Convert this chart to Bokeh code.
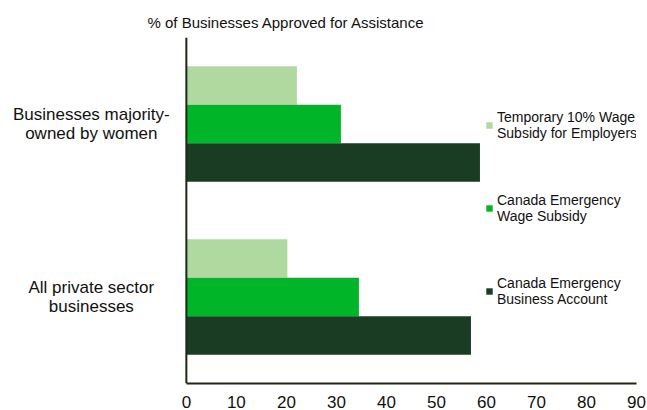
from bokeh.plotting import figure
from bokeh.models import Range1d, FactorRange, Legend, LegendItem, ColumnDataSource, FixedTicker, Span
from bokeh.core.properties import value
from bokeh.transform import dodge
from bokeh.embed import file_html
from bokeh.resources import INLINE

categories = ["All private sector businesses", "Businesses majority-owned by women"]
category_labels = ["All private sector\nbusinesses", "Businesses majority-\nowned by women"]
series_names = ["Temporary 10% Wage\nSubsidy for Employers",
                "Canada Emergency\nWage Subsidy",
                "Canada Emergency\nBusiness Account"]
temp_wage = [20.2, 22.1]
cews = [34.5, 30.9]
ceba = [56.9, 58.7]
x_ticks = [0, 10, 20, 30, 40, 50, 60, 70, 80, 90]
colors = ["#afd99f", "#00b628", "#193c23"]
axis_color = "#1e2614"

source = ColumnDataSource(dict(cat=categories, label=category_labels,
                               temp=temp_wage, cews=cews, ceba=ceba))

p = figure(width=647, height=410, y_range=FactorRange(*categories, range_padding=0),
           x_range=Range1d(-37.16, 90), output_backend="svg", toolbar_location=None,
           min_border_left=0, min_border_right=11, min_border_top=37, min_border_bottom=27)

bh = 0.223
r1 = p.hbar(y=dodge("cat", bh, range=p.y_range), right="temp", left=0, height=bh,
            source=source, color=colors[0], line_color=None)
r2 = p.hbar(y=dodge("cat", 0, range=p.y_range), right="cews", left=0, height=bh,
            source=source, color=colors[1], line_color=None)
r3 = p.hbar(y=dodge("cat", -bh, range=p.y_range), right="ceba", left=0, height=bh,
            source=source, color=colors[2], line_color=None)

# category labels, centered two-line text left of the value axis
p.text(x=-19, y="cat", text="label", source=source, text_align="center",
       text_baseline="middle", text_font=value("Liberation Sans"), text_font_size="17px",
       text_line_height=1.0, text_color="#111111")

p.title.text = "% of Businesses Approved for Assistance"
p.title.text_font = "Liberation Sans"
p.title.text_font_size = "15px"
p.title.text_font_style = "normal"
p.title.text_color = "#111111"
p.title.offset = 147
p.title.standoff = 14

p.xgrid.visible = False
p.ygrid.visible = False
p.yaxis.visible = False
p.outline_line_color = None

xa = p.xaxis[0]
xa.bounds = (0, 90)
xa.axis_line_color = axis_color
xa.axis_line_width = 2
xa.major_tick_line_color = None
xa.minor_tick_line_color = None
xa.major_label_text_font = "Liberation Sans"
xa.major_label_text_font_size = "17px"
xa.major_label_text_color = "#111111"
xa.ticker = FixedTicker(ticks=x_ticks)
xa.major_label_standoff = 6

p.add_layout(Span(location=0, dimension="height", line_color=axis_color, line_width=2))

legend = Legend(items=[LegendItem(label=series_names[0], renderers=[r1]),
                       LegendItem(label=series_names[1], renderers=[r2]),
                       LegendItem(label=series_names[2], renderers=[r3])],
                location=(485, 76), orientation="vertical")
legend.background_fill_alpha = 0
legend.border_line_color = None
legend.padding = 0
legend.margin = 0
legend.glyph_width = 8
legend.glyph_height = 8
legend.label_standoff = 4
legend.spacing = 51
legend.label_text_font = "Liberation Sans"
legend.label_text_font_size = "14px"
legend.label_text_line_height = 1.25
legend.label_text_color = "#111111"
p.add_layout(legend)

open("out.html", "w").write(file_html(p, INLINE))
